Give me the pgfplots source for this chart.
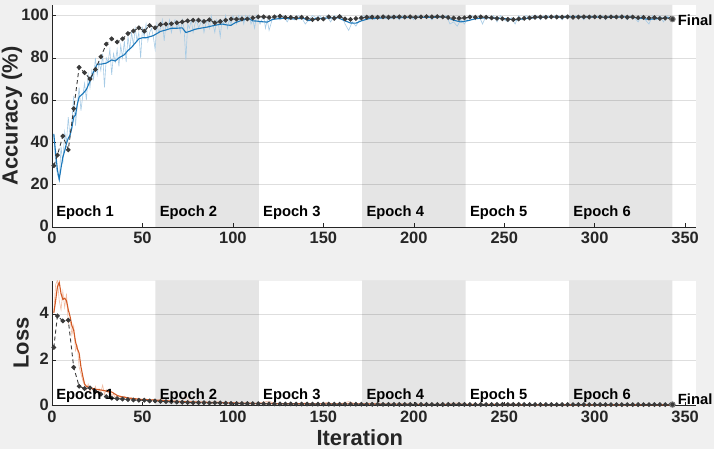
\documentclass[border=0pt]{standalone}
\usepackage{pgfplots}
\pgfplotsset{compat=1.18}
\usepackage{fontspec}
\setmainfont{Liberation Sans}
\definecolor{figbg}{HTML}{F0F0F0}
\definecolor{axc}{HTML}{262626}
\definecolor{accS}{HTML}{1A77BA}
\definecolor{accR}{HTML}{A6CBE6}
\definecolor{lossS}{HTML}{D35A24}
\definecolor{lossR}{HTML}{F2BDA4}
\definecolor{val}{HTML}{3A3A3A}
\tikzset{ep/.style={anchor=base west, inner sep=0pt, font=\bfseries\fontsize{14.8}{16}\selectfont, text=black}}
\pgfplotsset{myax/.style={
  scale only axis, width=644bp, xmin=0, xmax=356,
  axis lines*=left, axis background/.style={fill=white},
  axis line style={axc, line width=0.6bp},
  tick style={axc, line width=0.6bp}, tick align=inside, major tick length=4bp,
  xtick={0,50,...,350},
  ymajorgrids, major grid style={black!13, line width=0.5bp},
  ticklabel style={font=\bfseries\fontsize{16.5}{18}\selectfont, text=axc, inner sep=1bp},
  yticklabel style={xshift=-2bp, yshift=1bp},
  xticklabel style={yshift=-4bp},
  /pgf/number format/assume math mode=true,
  label style={font=\bfseries\fontsize{22}{24}\selectfont, text=axc},
  clip mode=individual,
  },
  epoch/.style={fill=black, fill opacity=0.1, draw=none, forget plot},
  valline/.style={val, dashed, dash pattern=on 4bp off 3bp, line width=0.9bp, mark=*, mark size=1.9bp, mark options={solid, fill=val, draw=val}},
}
\begin{document}
\begin{tikzpicture}
\useasboundingbox (0,0) rectangle (714bp,449bp);
\fill[figbg] (0,0) rectangle (714bp,449bp);
% ================= ACCURACY =================
\begin{axis}[myax, at={(52bp,222bp)}, anchor=south west, height=222bp,
  ymin=0, ymax=105, ytick={0,20,...,100},
  ylabel={Accuracy (\%)}, ylabel style={at={(axis description cs:-0.0621,0.5)}, anchor=center}]
\addplot[epoch] coordinates {(57.17,0)(57.17,105)(114.33,105)(114.33,0)} \closedcycle;
\addplot[epoch] coordinates {(171.5,0)(171.5,105)(228.67,105)(228.67,0)} \closedcycle;
\addplot[epoch] coordinates {(285.83,0)(285.83,105)(343,105)(343,0)} \closedcycle;
% raw training accuracy
\addplot[accR, line width=0.6bp] coordinates {
(1,44)(2,30)(3,25)(4,22)(5,38)(6,30)(7,45)(8,40)(9,52)(10,42)(11,50)(12,62)(13,48)(14,58)(15,66)(16,55)(17,62)(18,68)(19,60)(20,72)
(21,66)(22,74)(23,70)(24,80)(25,72)(26,78)(27,74)(28,82)(29,66)(30,80)(31,78)(32,84)(33,72)(34,82)(35,78)(36,84)(37,76)(38,86)(39,80)(40,88)
(41,78)(42,90)(43,84)(44,92)(45,86)(46,94)(47,88)(48,92)(49,80)(50,94)(51,90)(52,96)(53,88)(54,92)(55,94)(56,90)(57,84)(58,96)(59,92)(60,94)
(61,98)(62,88)(63,96)(64,94)(65,98)(66,92)(67,96)(68,98)(69,94)(70,96)(71,92)(72,98)(73,94)(74,79)(75,96)(76,94)(77,98)(78,92)(79,96)(80,98)
(81,94)(82,96)(83,98)(84,92)(85,96)(86,98)(87,94)(88,100)(89,96)(90,92)(91,98)(92,96)(93,90)(94,98)(95,96)(96,100)(97,94)(98,98)(99,96)(100,100)
(101,98)(102,96)(103,100)(104,98)(105,100)(106,96)(107,100)(108,98)(109,100)(110,96)(111,98)(112,94)(113,100)(114,98)(115,96)(116,98)(117,100)(118,94)(119,98)(120,93)
(122,99)(124,100)(126,98)(128,100)(130,97)(132,100)(134,98)(136,100)(138,99)(140,96)(142,98)(144,100)(146,99)(148,100)(150,98)(152,100)(154,97)(156,100)(158,99)(160,100)
(162,96)(164,93)(166,97)(168,95)(170,98)(172,100)(174,99)(176,100)(178,98)(180,100)(182,99)(184,100)(186,98)(188,100)(190,100)(192,98)(194,100)(196,99)(198,100)(200,98)
(202,100)(204,100)(206,99)(208,100)(210,98)(212,100)(214,100)(216,99)(218,100)(220,96)(222,97)(224,95)(226,98)(228,96)(230,99)(232,100)(234,98)(236,100)(238,96)(240,100)
(242,99)(244,100)(246,97)(248,100)(250,98)(252,97)(254,99)(256,96)(258,100)(260,98)(262,100)(264,99)(266,100)(268,100)(270,98)(272,100)(274,100)(276,99)(278,100)(280,100)
(282,98)(284,100)(286,100)(288,99)(290,100)(292,100)(294,98)(296,100)(298,100)(300,99)(302,100)(304,100)(306,98)(308,100)(310,100)(312,99)(314,100)(316,100)(318,98)(320,100)
(322,99)(324,97)(326,100)(328,98)(330,96)(332,100)(334,98)(336,100)(338,97)(340,100)(342,98)(343,99)};
% smoothed training accuracy
\addplot[accS, line width=1.1bp] coordinates {
(1,44)(2,35)(3,27)(4,22.5)(5,28)(6,33)(7,36)(8,39.5)(9,42)(10,43.5)(11,47)(12,52)(13,53)(14,58)(15,61.5)(17,63)(19,65)(21,69)(23,73.5)(25,77)
(27,77)(30,77.5)(33,79)(35,78.5)(37,80)(40,81.5)(42,83.5)(44,85)(46,87)(48,89)(50,89.5)(52,89.5)(54,90)(56,90.5)(58,91.5)(60,92.5)(63,93.2)(66,94)(69,94)(72,94.2)
(74,92)(76,92.5)(79,93.5)(82,94)(86,94.6)(90,95.4)(94,96)(97,95.5)(99,95.4)(101,96.5)(104,97.5)(107,98.2)(109,98.5)(111,97.5)(113,97.4)(116,97.1)(119,96.9)(122,98.2)(125,98.5)(128,98.7)
(133,98.4)(139,98.7)(142,97.6)(146,98.6)(152,98.8)(158,99)(162,97.5)(165,96.5)(168,96.4)(171,97.5)(175,98.5)(180,98.8)(190,99)(200,99.1)(210,99.2)(218,99.3)(222,97.8)(226,97)(230,97.6)(234,98.5)
(240,99)(250,98.6)(256,98)(262,98.6)(270,99.2)(280,99.3)(290,99.4)(300,99.3)(310,99.2)(318,99.4)(325,98.8)(330,98.2)(335,98.6)(340,98.9)(343,98.8)};
% validation accuracy
\addplot[valline] coordinates {
(1,29)(3,34)(6,43)(9,36.5)(12,56)(15,75.5)(18,73)(21,70)(24,74.5)(27,80.5)(30,86.5)(33,89)(36,87.5)(39,89)(42,91.5)(45,92.7)(48,94.2)(51,92.6)(54,95.3)(57,94.2)
(60,95.8)(63,96)(66,96.1)(69,96.6)(72,97)(75,97.5)(78,97.8)(81,97.8)(84,97.2)(87,98)(90,96.6)(93,97.2)(96,97.8)(99,98.4)(102,98.3)(105,98.4)(108,98.4)(111,98.9)(114,99.4)(117,99.4)
(120,99.1)(123,99.4)(126,99.7)(129,99.1)(132,99.1)(135,98.9)(138,99.2)(141,98.7)(144,98.1)(147,98.4)(150,98.4)(153,99.4)(156,98.7)(159,99.5)(162,98.4)(165,98.2)(168,98.6)(171,98.9)(174,99.2)(177,99.3)
(180,99.2)(183,99.4)(186,99.2)(189,99.3)(192,99.4)(195,99.3)(198,99.4)(201,99.2)(204,99.4)(207,99.5)(210,99.4)(213,99.5)(216,99.4)(219,99.1)(222,98.8)(225,98.7)(228,98.9)(231,99.3)(234,99.2)(237,99.4)
(240,99.2)(243,98.9)(246,98.7)(249,98.5)(252,98.2)(255,98.1)(258,98.4)(261,98.7)(264,98.9)(267,99.2)(270,99.3)(273,99.2)(276,99.4)(279,99.3)(282,99.3)(285,99.4)(288,99.2)(291,99.3)(294,99.4)(297,99.3)
(300,99.4)(303,99.3)(306,99.2)(309,99.4)(312,99.3)(315,99.4)(318,99.2)(321,99.3)(324,99.0)(327,99.1)(330,98.8)(333,99.0)(336,98.6)(339,98.8)(342,98.6)(343,98.3)};
\addplot[only marks, mark=*, mark size=2.7bp, mark options={fill=val, draw=gray, line width=0.9bp}] coordinates {(343,98.3)};
\node[ep] at (axis cs:2.3,5.2) {Epoch 1};
\node[ep] at (axis cs:59.47,5.2) {Epoch 2};
\node[ep] at (axis cs:116.63,5.2) {Epoch 3};
\node[ep] at (axis cs:173.8,5.2) {Epoch 4};
\node[ep] at (axis cs:230.97,5.2) {Epoch 5};
\node[ep] at (axis cs:288.13,5.2) {Epoch 6};
\node[ep] at (axis cs:345.9,95.3) {Final};
\end{axis}
% ================= LOSS =================
\begin{axis}[myax, at={(52bp,43.3bp)}, anchor=south west, height=125bp,
  ymin=0, ymax=5.47, ytick={0,2,4},
  ylabel={Loss}, ylabel style={at={(axis description cs:-0.048,0.5)}, anchor=center},
  xlabel={Iteration}, xlabel style={at={(axis description cs:0.478,-0.254)}, anchor=center}]
\addplot[epoch] coordinates {(57.17,0)(57.17,5.47)(114.33,5.47)(114.33,0)} \closedcycle;
\addplot[epoch] coordinates {(171.5,0)(171.5,5.47)(228.67,5.47)(228.67,0)} \closedcycle;
\addplot[epoch] coordinates {(285.83,0)(285.83,5.47)(343,5.47)(343,0)} \closedcycle;
% raw training loss
\addplot[lossR, line width=0.6bp] coordinates {
(1,4.1)(2,5.3)(3,5.5)(4,4.6)(5,4.2)(6,5.0)(7,4.3)(8,4.9)(9,3.6)(10,3.8)(11,3.1)(12,3.5)(13,2.4)(14,2.6)(15,1.7)(16,1.4)(17,1.1)(18,0.9)(19,0.7)(20,0.95)
(21,0.6)(22,0.8)(23,0.65)(24,0.85)(25,0.55)(26,0.75)(27,0.6)(28,0.9)(29,0.5)(30,0.7)(31,0.55)(32,0.65)(33,0.45)(34,0.5)(35,0.35)(36,0.45)(38,0.35)(40,0.42)(42,0.3)(44,0.35)
(46,0.25)(48,0.32)(50,0.22)(52,0.3)(54,0.2)(56,0.28)(58,0.18)(60,0.3)(62,0.2)(64,0.22)(66,0.15)(68,0.2)(70,0.14)(72,0.22)(74,0.45)(76,0.15)(78,0.18)(80,0.12)(84,0.16)(88,0.1)
(92,0.18)(96,0.1)(100,0.14)(104,0.08)(108,0.12)(112,0.07)(116,0.15)(120,0.2)(124,0.07)(128,0.09)(132,0.06)(136,0.1)(140,0.12)(144,0.06)(148,0.09)(152,0.14)(156,0.07)(160,0.1)(164,0.18)(168,0.08)
(172,0.06)(176,0.08)(180,0.05)(184,0.07)(188,0.05)(192,0.06)(196,0.04)(200,0.06)(204,0.05)(208,0.04)(212,0.06)(216,0.04)(220,0.1)(224,0.12)(228,0.06)(232,0.05)(236,0.04)(240,0.05)(244,0.07)(248,0.04)
(252,0.08)(256,0.05)(260,0.04)(264,0.05)(268,0.03)(272,0.04)(276,0.03)(280,0.05)(284,0.03)(288,0.04)(292,0.03)(296,0.04)(300,0.03)(304,0.05)(308,0.03)(312,0.04)(316,0.03)(320,0.05)(324,0.04)(328,0.07)
(332,0.05)(336,0.04)(340,0.06)(343,0.04)};
% smoothed training loss
\addplot[lossS, line width=1.1bp] coordinates {
(1,4.05)(2,4.6)(3,5.2)(4,5.4)(5,4.9)(6,4.65)(7,4.7)(8,4.6)(9,4.2)(10,3.9)(11,3.5)(12,3.3)(13,2.8)(14,2.5)(15,2.3)(16,1.7)(17,1.3)(18,0.95)(19,0.85)(21,0.78)
(24,0.72)(27,0.69)(30,0.64)(33,0.6)(36,0.45)(38,0.4)(43,0.33)(49,0.28)(56,0.25)(63,0.22)(71,0.18)(80,0.16)(90,0.14)(100,0.12)(115,0.1)(130,0.09)(150,0.08)(170,0.08)(200,0.06)(230,0.06)
(260,0.05)(300,0.04)(343,0.04)};
% validation loss
\addplot[valline] coordinates {
(1,2.55)(3,3.93)(6,3.71)(9,3.74)(12,1.68)(15,0.85)(18,0.75)(21,0.78)(24,0.62)(27,0.5)(30,0.4)(33,0.33)(36,0.31)(39,0.29)(42,0.27)(45,0.25)(48,0.24)(51,0.24)(54,0.21)(57,0.21)
(60,0.19)(63,0.18)(66,0.17)(69,0.16)(72,0.15)(75,0.14)(78,0.13)(81,0.13)(84,0.13)(87,0.12)(90,0.13)(93,0.12)(96,0.11)(99,0.10)(102,0.095)(105,0.095)(108,0.09)(111,0.09)(114,0.085)(117,0.085)
(120,0.08)(123,0.08)(126,0.078)(129,0.075)(132,0.075)(135,0.072)(138,0.07)(141,0.07)(144,0.07)(147,0.068)(150,0.068)(153,0.065)(156,0.065)(159,0.063)(162,0.065)(165,0.066)(168,0.064)(171,0.062)(174,0.06)(177,0.06)
(180,0.06)(183,0.058)(186,0.058)(189,0.057)(192,0.056)(195,0.056)(198,0.055)(201,0.055)(204,0.054)(207,0.054)(210,0.053)(213,0.053)(216,0.053)(219,0.055)(222,0.056)(225,0.056)(228,0.055)(231,0.053)(234,0.053)(237,0.052)
(240,0.052)(243,0.053)(246,0.054)(249,0.055)(252,0.056)(255,0.056)(258,0.055)(261,0.053)(264,0.052)(267,0.051)(270,0.05)(273,0.05)(276,0.05)(279,0.049)(282,0.049)(285,0.048)(288,0.048)(291,0.048)(294,0.047)(297,0.047)
(300,0.047)(303,0.047)(306,0.046)(309,0.046)(312,0.046)(315,0.045)(318,0.046)(321,0.046)(324,0.047)(327,0.047)(330,0.048)(333,0.048)(336,0.049)(339,0.049)(342,0.05)(343,0.05)};
\addplot[only marks, mark=*, mark size=2.7bp, mark options={fill=val, draw=gray, line width=0.9bp}] coordinates {(343,0.05)};
\node[ep] at (axis cs:2.3,0.28) {Epoch 1};
\node[ep] at (axis cs:59.47,0.28) {Epoch 2};
\node[ep] at (axis cs:116.63,0.28) {Epoch 3};
\node[ep] at (axis cs:173.8,0.28) {Epoch 4};
\node[ep] at (axis cs:230.97,0.28) {Epoch 5};
\node[ep] at (axis cs:288.13,0.28) {Epoch 6};
\node[ep] at (axis cs:345.9,0.06) {Final};
\end{axis}
\end{tikzpicture}
\end{document}
